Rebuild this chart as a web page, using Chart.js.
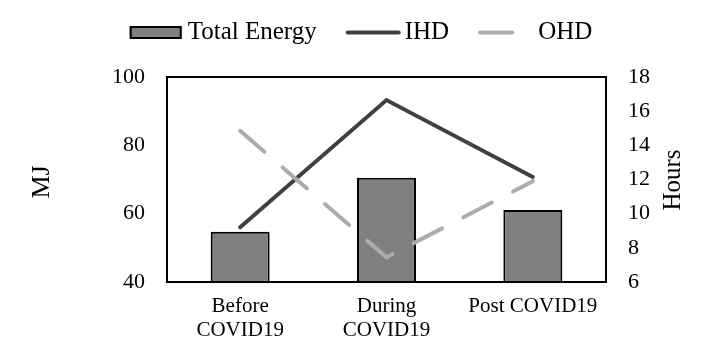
<!DOCTYPE html>
<html><head><meta charset="utf-8">
<script src="https://cdn.jsdelivr.net/npm/chart.js@4/dist/chart.umd.min.js"></script>
<style>html,body{margin:0;padding:0;background:#fff}#wrap{width:713px;height:355px;position:relative}</style>
</head><body><div id="wrap"><canvas id="c" width="713" height="355"></canvas></div>
<script>
// ---- data ----
const categories = [["Before", "COVID19"], ["During", "COVID19"], "Post COVID19"];
const totalEnergy = [54.7, 70.5, 61.1];   // MJ (left axis)
const ihdHours = [9.2, 16.65, 12.15];      // Hours (right axis)
const ohdHours = [14.85, 7.45, 11.9];      // Hours (right axis)
const seriesNames = ["Total Energy", "IHD", "OHD"];
const leftAxisTicks = [40, 60, 80, 100];
const rightAxisTicks = [6, 8, 10, 12, 14, 16, 18];
const axisTitles = { left: "MJ", right: "Hours" };

const FONT = "'Liberation Serif', 'Times New Roman', serif";
const BLACK = "#000000";

const extrasPlugin = {
  id: 'extras',
  afterDraw(chart) {
    const ctx = chart.ctx;
    const a = chart.chartArea;
    ctx.save();
    // frame
    ctx.strokeStyle = BLACK;
    ctx.lineWidth = 2;
    ctx.setLineDash([]);
    ctx.strokeRect(a.left, a.top, a.right - a.left, a.bottom - a.top);
    // axis titles
    ctx.fillStyle = BLACK;
    ctx.textAlign = "center";
    ctx.textBaseline = "middle";
    ctx.save();
    ctx.font = "26px " + FONT;
    ctx.translate(42, 182);
    ctx.rotate(-Math.PI / 2);
    ctx.fillText(axisTitles.left, 0, 0);
    ctx.restore();
    ctx.save();
    ctx.font = "25px " + FONT;
    ctx.translate(673, 180);
    ctx.rotate(-Math.PI / 2);
    ctx.fillText(axisTitles.right, 0, 0);
    ctx.restore();
    // legend
    const ds = chart.data.datasets;
    const order = [0, 1, 2];
    const symW = [52, 55, 55], gapSym = [6, 4, 5], itemGap = 29;
    ctx.font = "25px " + FONT;
    const widths = order.map(i => ctx.measureText(ds[i].label).width);
    let total = 0;
    order.forEach((i, k) => { total += symW[k] + gapSym[k] + widths[k]; });
    total += itemGap * (order.length - 1);
    let x = 361 - total / 2;
    const cy = 32.5;
    order.forEach((i, k) => {
      const d = ds[i];
      if (d.type === 'bar') {
        ctx.fillStyle = d.backgroundColor;
        ctx.fillRect(x, cy - 6.5, symW[k], 13);
        ctx.strokeStyle = d.borderColor;
        ctx.lineWidth = 2;
        ctx.strokeRect(x + 1, cy - 5.5, symW[k] - 2, 11);
      } else {
        ctx.strokeStyle = d.borderColor;
        ctx.lineWidth = d.borderWidth;
        ctx.lineCap = 'round';
        ctx.setLineDash(d.borderDash || []);
        ctx.beginPath();
        ctx.moveTo(x + 2, cy);
        ctx.lineTo(x + symW[k] - 2, cy);
        ctx.stroke();
        ctx.setLineDash([]);
      }
      ctx.fillStyle = BLACK;
      ctx.textAlign = "left";
      ctx.textBaseline = "middle";
      ctx.fillText(d.label, x + symW[k] + gapSym[k], cy);
      x += symW[k] + gapSym[k] + widths[k] + itemGap;
    });
    ctx.restore();
  }
};

new Chart(document.getElementById('c'), {
  data: {
    labels: categories,
    datasets: [
      { type: 'bar', label: seriesNames[0], data: totalEnergy, yAxisID: 'yL',
        backgroundColor: '#808080', borderColor: BLACK, borderWidth: 2,
        barPercentage: 0.403, categoryPercentage: 1.0, order: 2 },
      { type: 'line', label: seriesNames[1], data: ihdHours, yAxisID: 'yR',
        borderColor: '#404040', borderWidth: 4, pointRadius: 0, tension: 0,
        borderCapStyle: 'round', borderJoinStyle: 'miter', fill: false, order: 1 },
      { type: 'line', label: seriesNames[2], data: ohdHours, yAxisID: 'yR',
        borderColor: '#AFABAB', borderWidth: 4, pointRadius: 0, tension: 0,
        borderDash: [32, 24], borderCapStyle: 'round', borderJoinStyle: 'miter', fill: false, order: 0 }
    ]
  },
  options: {
    responsive: false,
    animation: false,
    devicePixelRatio: 1,
    layout: { padding: { top: 77, bottom: 0, left: 0, right: 0 } },
    plugins: { legend: { display: false }, tooltip: { enabled: false }, title: { display: false } },
    scales: {
      x: {
        grid: { display: false, drawTicks: false },
        border: { display: false },
        ticks: { color: BLACK, font: { family: FONT, size: 21, lineHeight: 1.12 }, padding: 13, maxRotation: 0, autoSkip: false },
        afterFit(s) { s.height = 73; }
      },
      yL: {
        position: 'left', min: leftAxisTicks[0], max: leftAxisTicks[leftAxisTicks.length - 1],
        grid: { display: false, drawTicks: false },
        border: { display: false },
        afterBuildTicks(s) { s.ticks = leftAxisTicks.map(v => ({ value: v })); },
        ticks: { color: BLACK, font: { family: FONT, size: 22 }, padding: 22 },
        afterFit(s) { s.width = 167; }
      },
      yR: {
        position: 'right', min: rightAxisTicks[0], max: rightAxisTicks[rightAxisTicks.length - 1],
        grid: { display: false, drawTicks: false },
        border: { display: false },
        afterBuildTicks(s) { s.ticks = rightAxisTicks.map(v => ({ value: v })); },
        ticks: { color: BLACK, font: { family: FONT, size: 22 }, padding: 22 },
        afterFit(s) { s.width = 107; }
      }
    }
  },
  plugins: [extrasPlugin]
});
</script></body></html>
